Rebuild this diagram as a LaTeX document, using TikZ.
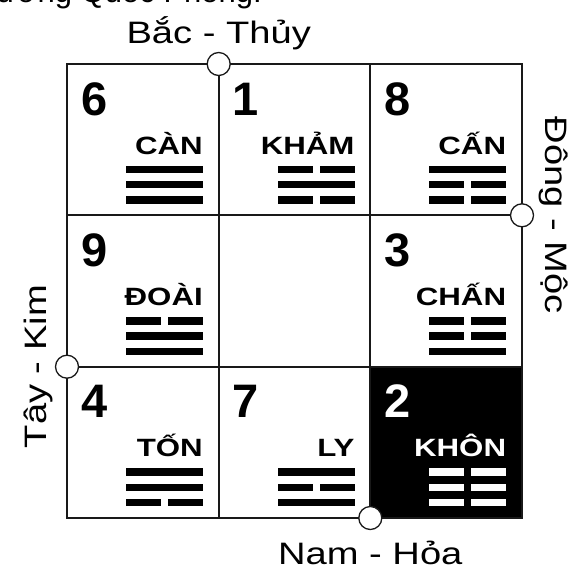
\documentclass[tikz,border=0pt]{standalone}
\usepackage{fontspec}
\usepackage{graphicx}
\setmainfont{Liberation Sans}
\tikzset{
  gridline/.style={line width=1.7pt, draw=black!90},
  junction/.style={circle, draw=black!90, line width=1.3pt, fill=white, minimum size=23pt, inner sep=0pt},
  digit/.style={anchor=base west, inner sep=0pt, font=\fontsize{47}{47}\selectfont\bfseries},
  gualabel/.style={anchor=base east, inner sep=0pt, font=\fontsize{25}{25}\selectfont\bfseries},
  dirlabel/.style={inner sep=0pt, anchor=base, font=\fontsize{31}{31}\selectfont},
  yang/.pic={\fill (0,-3.75) rectangle (77,3.75);},
  yin/.pic={\fill (0,-3.75) rectangle (35,3.75); \fill (42,-3.75) rectangle (77,3.75);},
}
\newcommand\guacell[8]{%
  \begin{scope}[shift={(#1,#2)},#8]
    \node[digit] (n#3) at (14,51) {#3};
    \node[gualabel] (g#3) at (136,90) {\scalebox{1.25}[1]{#4}};
    \pic at (59,105.5) {#5};
    \pic at (59,120.7) {#6};
    \pic at (59,136) {#7};
  \end{scope}}
\begin{document}
\begin{tikzpicture}[x=1pt,y=-1pt]
\useasboundingbox (0,0) rectangle (573,570);
\fill[white] (0,0) rectangle (573,570);
% cut-off heading
\node[dirlabel, anchor=base east] (head) at (262,2) {ương Quốc Phong.};
% grid coordinates
\coordinate (x0y0) at (67,64);
\coordinate (x3y3) at (522,518);
\coordinate (x1y0) at (218.7,64);
\coordinate (x1y3) at (218.7,518);
\coordinate (x2y0) at (370.3,64);
\coordinate (x2y3) at (370.3,518);
\coordinate (x0y1) at (67,215.3);
\coordinate (x3y1) at (522,215.3);
\coordinate (x0y2) at (67,366.7);
\coordinate (x3y2) at (522,366.7);
% black cell
\fill (x2y0 |- x0y2) rectangle (x3y3);
% grid
\draw[gridline] (x0y0) rectangle (x3y3);
\draw[gridline] (x1y0) -- (x1y3);
\draw[gridline] (x2y0) -- (x2y3);
\draw[gridline] (x0y1) -- (x3y1);
\draw[gridline] (x0y2) -- (x3y2);
% cells
\guacell{67}{64}{6}{CÀN}{yang}{yang}{yang}{}
\guacell{218.7}{64}{1}{KHẢM}{yin}{yang}{yin}{}
\guacell{370.3}{64}{8}{CẤN}{yang}{yin}{yin}{}
\guacell{67}{215.3}{9}{ĐOÀI}{yin}{yang}{yang}{}
\guacell{370.3}{215.3}{3}{CHẤN}{yin}{yin}{yang}{}
\guacell{67}{366.7}{4}{TỐN}{yang}{yang}{yin}{}
\guacell{218.7}{366.7}{7}{LY}{yang}{yin}{yang}{}
\guacell{370.3}{366.7}{2}{KHÔN}{yin}{yin}{yin}{white}
% junction circles
\node[junction] (north) at (x1y0) {};
\node[junction] (east) at (x3y1) {};
\node[junction] (west) at (x0y2) {};
\node[junction] (south) at (x2y3) {};
% direction labels
\node[dirlabel] (bac) at (218.7,43) {\scalebox{1.23}[1]{Bắc - Thủy}};
\node[dirlabel] (nam) at (370.3,564) {\scalebox{1.23}[1]{Nam - Hỏa}};
\node[dirlabel, rotate=90] (tay) at (46,366.7) {\scalebox{1.23}[1]{Tây - Kim}};
\node[dirlabel, rotate=-90] (dong) at (545,215.3) {\scalebox{1.23}[1]{Đông - Mộc}};
\end{tikzpicture}
\end{document}
